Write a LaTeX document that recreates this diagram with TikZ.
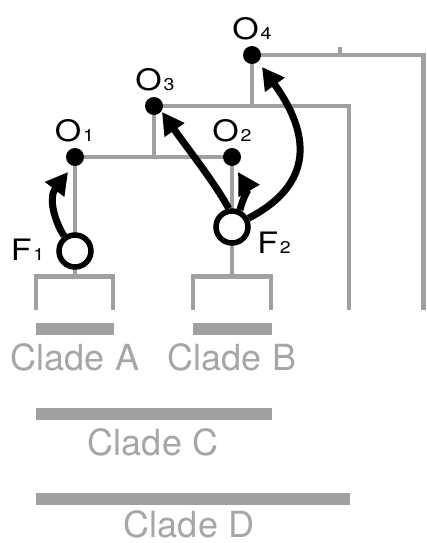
\documentclass[tikz,border=0pt]{standalone}
\usepackage{fontspec}
\usepackage{graphicx}
\setmainfont{TeX Gyre Heros}
\usetikzlibrary{arrows.meta}
\definecolor{treegray}{RGB}{160,160,160}
\definecolor{labelgray}{RGB}{166,166,166}
\newcommand{\sublab}[2]{\scalebox{1.15}[1]{\fontsize{29.5}{30}\selectfont #1\kern1.6pt\fontsize{17}{18}\selectfont #2}}
\begin{document}
\begin{tikzpicture}[x=1pt,y=-1pt,
  branch/.style={draw=treegray,line width=4.8pt,line join=miter},
  cladebar/.style={draw=treegray,line width=11.5pt},
  cladelabel/.style={text=labelgray,font=\fontsize{36}{40}\selectfont,anchor=base,inner sep=0pt,text depth=0pt},
  dotnode/.style={circle,fill=black,minimum size=18pt,inner sep=0pt},
  originnode/.style={circle,draw=black,line width=5.5pt,fill=white,minimum size=32pt,inner sep=0pt},
  namelabel/.style={anchor=base,inner sep=0pt,text depth=0pt},
  move/.style={draw=black,line width=7pt,-{Triangle[length=22pt,width=23pt]}},
]
\useasboundingbox (0,0) rectangle (426,543);
% coordinates of the tree
\coordinate (o1) at (75,157);
\coordinate (o2) at (232,157);
\coordinate (o3) at (154,106);
\coordinate (o4) at (252,55);
\coordinate (f1) at (75,251);
\coordinate (f2) at (232,227);
\coordinate (j3) at (154,157);
\coordinate (j4) at (252,106);
\coordinate (r4) at (423.6,55);
\coordinate (r4b) at (423.6,310);
\coordinate (r3) at (349,106);
\coordinate (r3b) at (349,310);
\coordinate (tk) at (340,55);
\coordinate (tkt) at (340,47);
\coordinate (ba) at (75,276.5);
\coordinate (bb) at (232,276.5);
% tree branches
\draw[branch] (o4) -- (r4) -- (r4b);
\draw[branch] (tk) -- (tkt);
\draw[branch] (o4) -- (j4);
\draw[branch] (o3) -- (r3) -- (r3b);
\draw[branch] (o3) -- (j3);
\draw[branch] (o1) -- (o2);
\draw[branch] (o1) -- (ba);
\draw[branch] (o2) -- (bb);
\draw[branch] (36,310) -- (36,276.5) -- (113,276.5) -- (113,310);
\draw[branch] (193,310) -- (193,276.5) -- (271,276.5) -- (271,310);
% clade bars
\draw[cladebar] (36,329) -- (114,329);
\draw[cladebar] (193,329) -- (272,329);
\draw[cladebar] (36,414) -- (272,414);
\draw[cladebar] (36,499) -- (350,499);
% clade labels
\node[cladelabel] (la) at (75,370) {Clade A};
\node[cladelabel] (lb) at (232,370) {Clade B};
\node[cladelabel] (lc) at (153,455) {Clade C};
\node[cladelabel] (ld) at (189,537) {Clade D};
% nodes
\node[dotnode] (O1) at (o1) {};
\node[dotnode] (O2) at (o2) {};
\node[dotnode] (O3) at (o3) {};
\node[dotnode] (O4) at (o4) {};
\node[originnode] (F1) at (f1) {};
\node[originnode] (F2) at (f2) {};
% labels
\node[namelabel] (lo1) at (74.5,141.5) {\sublab{O}{1}};
\node[namelabel] (lo2) at (232,141.5) {\sublab{O}{2}};
\node[namelabel] (lo3) at (155,90.5) {\sublab{O}{3}};
\node[namelabel] (lo4) at (252,40) {\sublab{O}{4}};
\node[namelabel] (lf1) at (27.5,260) {\sublab{F}{1}};
\node[namelabel] (lf2) at (274,253) {\sublab{F}{2}};
% arrow tips
\coordinate (t1) at (68,172);
\coordinate (t2) at (238,172);
\coordinate (t3) at (162,112);
\coordinate (t4) at (262,67);
% movements
\draw[move] (F1.126) .. controls (55,222) and (48,198) .. (t1);
\draw[move] (F2.100) .. controls (215,183) and (185,145) .. (t3);
\draw[move] (F2.65) .. controls (243,198) and (248,189) .. (t2);
\draw[move] (F2.28) .. controls (322,180) and (304,125) .. (t4);
\end{tikzpicture}
\end{document}
